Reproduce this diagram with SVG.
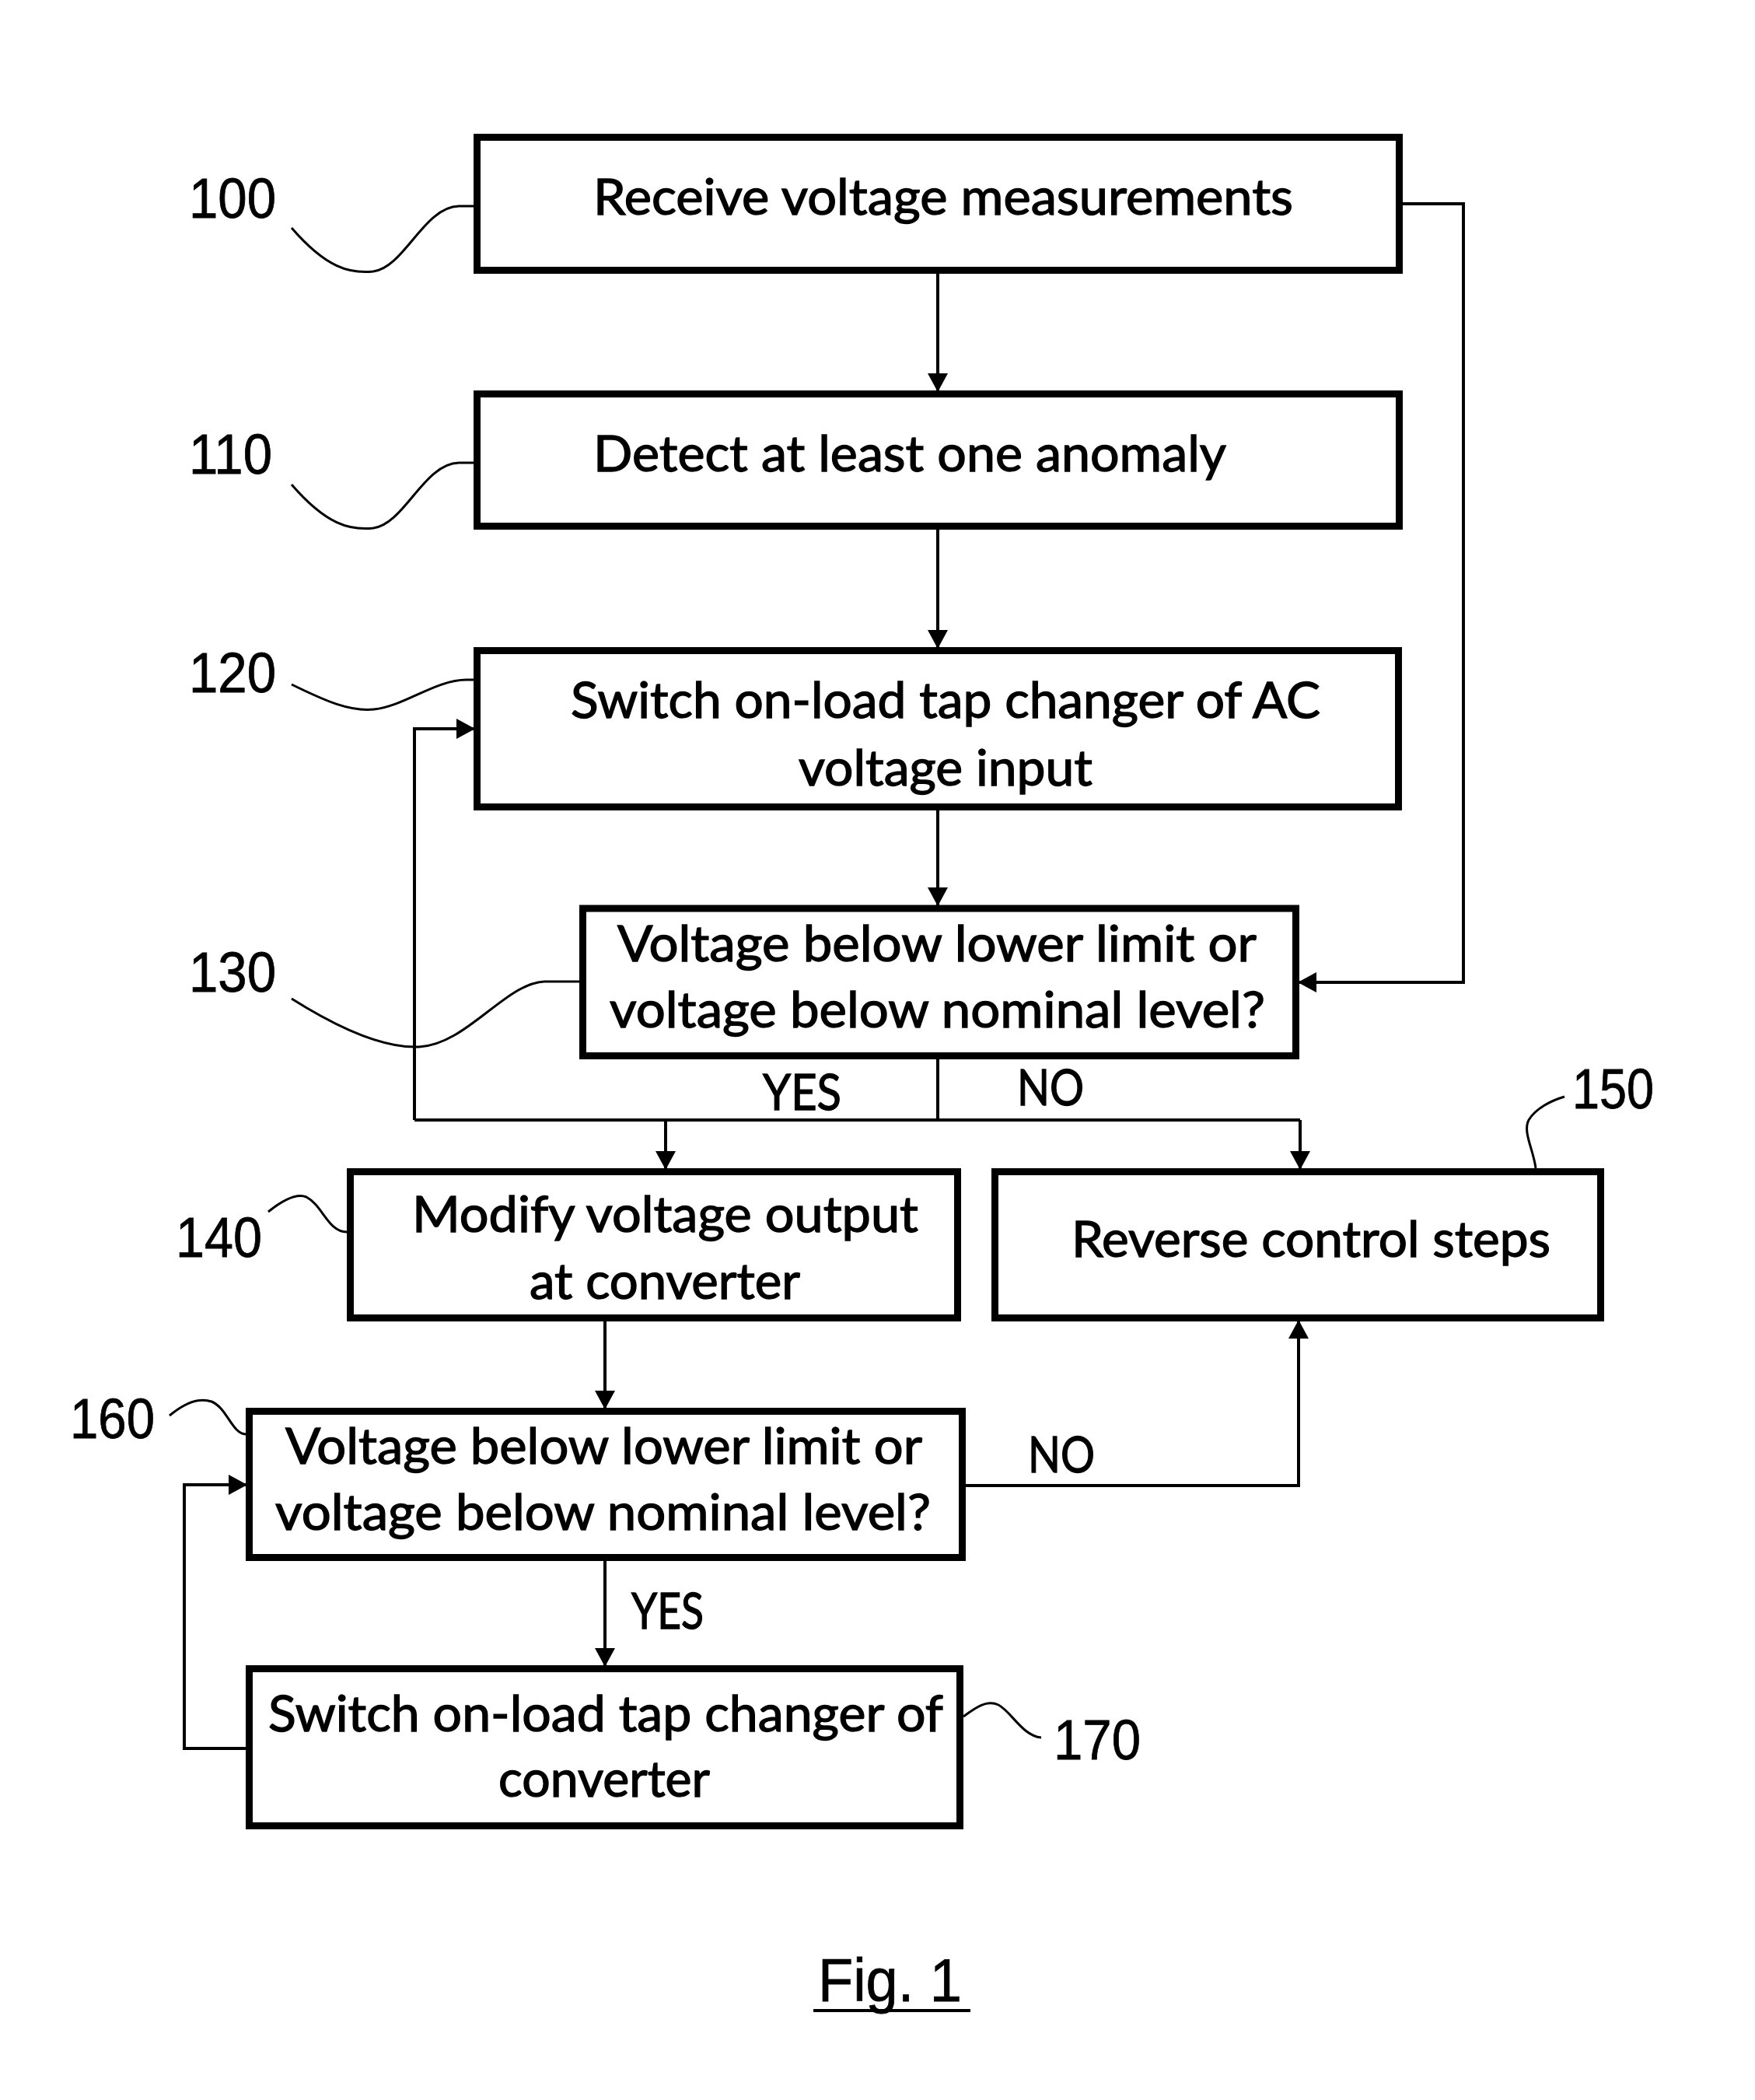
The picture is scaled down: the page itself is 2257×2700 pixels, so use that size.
<svg xmlns="http://www.w3.org/2000/svg" width="2257" height="2700" viewBox="0 0 2257 2700">
<style>
.box{fill:#fff;stroke:#000;stroke-width:9}
.t{font-family:Lato,"Open Sans",sans-serif;font-size:63px;fill:#000;stroke:#000;stroke-width:1.3}
.n{font-family:"Liberation Sans",Arial,sans-serif;font-size:73px;fill:#000;stroke:#000;stroke-width:0.8}
.c{fill:none;stroke:#000;stroke-width:4}
.ld{fill:none;stroke:#000;stroke-width:3}
</style>
<defs>
<marker id="ah" markerUnits="userSpaceOnUse" markerWidth="24" markerHeight="26" refX="24" refY="13" orient="auto">
<path d="M0,0 L24,13 L0,26 Z" fill="#000"/>
</marker>
</defs>
<rect width="2257" height="2700" fill="#fff"/>
<g id="connectors">
<path class="c" d="M1206,352 V504" marker-end="url(#ah)"/>
<path class="c" d="M1206,681 V834" marker-end="url(#ah)"/>
<path class="c" d="M1206,1042 V1165" marker-end="url(#ah)"/>
<path class="c" d="M1804,262 H1882 V1263 H1669" marker-end="url(#ah)"/>
<path class="c" d="M1206,1362 V1440"/>
<path class="c" d="M533,1440 H1672"/>
<path class="c" d="M533,1440 V937 H611" marker-end="url(#ah)"/>
<path class="c" d="M856,1440 V1504" marker-end="url(#ah)"/>
<path class="c" d="M1672,1440 V1504" marker-end="url(#ah)"/>
<path class="c" d="M778,1699 V1812" marker-end="url(#ah)"/>
<path class="c" d="M778,2007 V2143" marker-end="url(#ah)"/>
<path class="c" d="M1242,1910 H1670 V1697" marker-end="url(#ah)"/>
<path class="c" d="M316,2248 H237 V1909 H318" marker-end="url(#ah)"/>
<text class="t" x="981" y="1427" textLength="101" lengthAdjust="spacingAndGlyphs">YES</text>
<text class="t" x="1308" y="1421" textLength="86" lengthAdjust="spacingAndGlyphs">NO</text>
<text class="t" x="812" y="2094" textLength="93" lengthAdjust="spacingAndGlyphs">YES</text>
<text class="t" x="1322" y="1893" textLength="86" lengthAdjust="spacingAndGlyphs">NO</text>
</g>
<g id="n100">
<rect class="box" x="613.5" y="176.5" width="1186" height="171"/>
<text class="t" x="763" y="276" textLength="900" lengthAdjust="spacingAndGlyphs">Receive voltage measurements</text>
<path class="ld" d="M375,293 C420,345 450,352 480,349 C520,344 545,266 590,265 L609,265"/>
<text class="n" x="243" y="280" textLength="112" lengthAdjust="spacingAndGlyphs">100</text>
</g>
<g id="n110">
<rect class="box" x="613.5" y="506.5" width="1186" height="170"/>
<text class="t" x="763" y="606" textLength="814" lengthAdjust="spacingAndGlyphs">Detect at least one anomaly</text>
<path class="ld" d="M375,623 C420,675 450,682 480,679 C520,674 545,596 590,595 L609,595"/>
<text class="n" x="243" y="609" textLength="107" lengthAdjust="spacingAndGlyphs">110</text>
</g>
<g id="n120">
<rect class="box" x="613.5" y="836.5" width="1185" height="201"/>
<text class="t" x="734" y="923" textLength="964" lengthAdjust="spacingAndGlyphs">Switch on-load tap changer of AC</text>
<text class="t" x="1027" y="1010" textLength="378" lengthAdjust="spacingAndGlyphs">voltage input</text>
<path class="ld" d="M375,880 C420,902 450,915 481,912 C520,908 560,874 600,874 L609,874"/>
<text class="n" x="243" y="890" textLength="112" lengthAdjust="spacingAndGlyphs">120</text>
</g>
<g id="n130">
<rect class="box" x="749.5" y="1168" width="917" height="189.5"/>
<text class="t" x="794" y="1236" textLength="822" lengthAdjust="spacingAndGlyphs">Voltage below lower limit or</text>
<text class="t" x="784" y="1321" textLength="843" lengthAdjust="spacingAndGlyphs">voltage below nominal level?</text>
<path class="ld" d="M375,1284 C440,1325 495,1348 539,1346 C600,1343 650,1264 700,1262 L745,1262"/>
<text class="n" x="243" y="1275" textLength="112" lengthAdjust="spacingAndGlyphs">130</text>
</g>
<g id="n140">
<rect class="box" x="450.5" y="1506.5" width="781" height="188"/>
<text class="t" x="530" y="1584" textLength="651" lengthAdjust="spacingAndGlyphs">Modify voltage output</text>
<text class="t" x="681" y="1670" textLength="348" lengthAdjust="spacingAndGlyphs">at converter</text>
<path class="ld" d="M345,1558 C365,1542 382,1534 394,1539 C415,1550 422,1584 446,1584"/>
<text class="n" x="226" y="1616" textLength="111" lengthAdjust="spacingAndGlyphs">140</text>
</g>
<g id="n150">
<rect class="box" x="1279.5" y="1506.5" width="779" height="188"/>
<text class="t" x="1378" y="1616" textLength="616" lengthAdjust="spacingAndGlyphs">Reverse control steps</text>
<path class="ld" d="M1975,1502 C1972,1478 1958,1455 1966,1440 C1975,1425 1995,1415 2012,1410"/>
<text class="n" x="2022" y="1425" textLength="105" lengthAdjust="spacingAndGlyphs">150</text>
</g>
<g id="n160">
<rect class="box" x="320.5" y="1814.5" width="917" height="188"/>
<text class="t" x="367" y="1882" textLength="819" lengthAdjust="spacingAndGlyphs">Voltage below lower limit or</text>
<text class="t" x="354" y="1967" textLength="843" lengthAdjust="spacingAndGlyphs">voltage below nominal level?</text>
<path class="ld" d="M218,1820 C235,1806 255,1796 272,1802 C292,1810 298,1843 316,1844"/>
<text class="n" x="90" y="1849" textLength="109" lengthAdjust="spacingAndGlyphs">160</text>
</g>
<g id="n170">
<rect class="box" x="320.5" y="2145.5" width="914" height="202"/>
<text class="t" x="345" y="2226" textLength="868" lengthAdjust="spacingAndGlyphs">Switch on-load tap changer of</text>
<text class="t" x="641" y="2310" textLength="272" lengthAdjust="spacingAndGlyphs">converter</text>
<path class="ld" d="M1239,2207 C1255,2195 1270,2185 1284,2192 C1300,2200 1315,2232 1339,2234"/>
<text class="n" x="1355" y="2262" textLength="112" lengthAdjust="spacingAndGlyphs">170</text>
</g>
<g id="caption">
<text x="1052" y="2573" font-family="'Liberation Sans',Arial,sans-serif" font-size="77" textLength="185" lengthAdjust="spacingAndGlyphs" stroke="#000" stroke-width="0.8">Fig. 1</text>
<line x1="1046" y1="2585" x2="1248" y2="2585" stroke="#000" stroke-width="4"/>
</g>
</svg>
